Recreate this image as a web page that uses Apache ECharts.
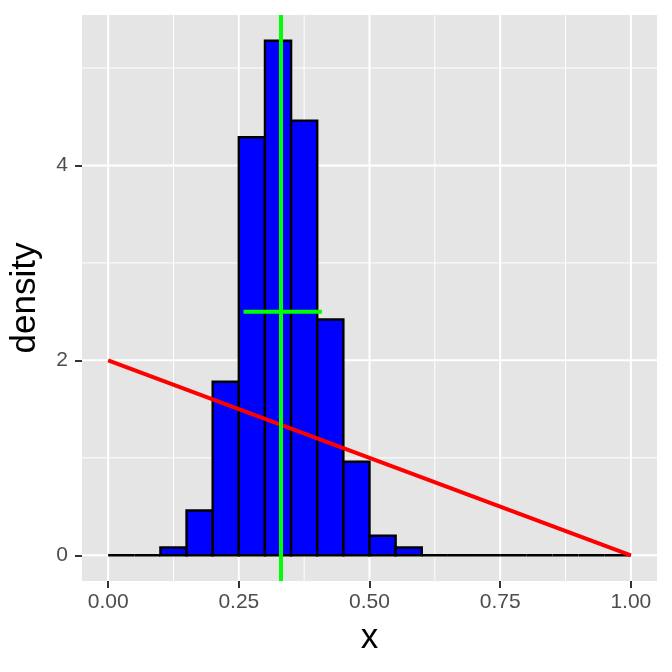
<!DOCTYPE html>
<html>
<head>
<meta charset="utf-8">
<script src="https://cdn.jsdelivr.net/npm/echarts@6/dist/echarts.min.js"></script>
<style>
  html, body { margin: 0; padding: 0; background: #fff; }
  #m1 { width: 672px; height: 672px; }
</style>
</head>
<body>
<div id="m1"></div>
<script>
// histogram bins (width 0.05) and densities
var binLo = [0.00, 0.05, 0.10, 0.15, 0.20, 0.25, 0.30, 0.35, 0.40, 0.45,
             0.50, 0.55, 0.60, 0.65, 0.70, 0.75, 0.80, 0.85, 0.90, 0.95];
var binHi = [0.05, 0.10, 0.15, 0.20, 0.25, 0.30, 0.35, 0.40, 0.45, 0.50,
             0.55, 0.60, 0.65, 0.70, 0.75, 0.80, 0.85, 0.90, 0.95, 1.00];
var density = [0, 0, 0.08, 0.46, 1.78, 4.29, 5.28, 4.46, 2.42, 0.96,
               0.20, 0.08, 0, 0, 0, 0, 0, 0, 0, 0];

// red reference line
var lineX = [0, 1];
var lineY = [2, 0];

// green mean line and horizontal bar
var meanX = 0.334;
var barY = 2.5;
var barLo = 0.259;
var barHi = 0.409;

// ticks and grid
var xTicks = [0, 0.25, 0.5, 0.75, 1];
var xMinor = [0.125, 0.375, 0.625, 0.875];
var yTicks = [0, 2, 4];
var yMinor = [1, 3, 5];

var myChart = echarts.init(document.getElementById('m1'));

var histData = binLo.map(function (lo, i) { return [lo, binHi[i], density[i]]; });
var refData = lineX.map(function (x, i) { return [x, lineY[i]]; });

// [direction, value, width]: 0 = vertical line at x, 1 = horizontal line at y
var gridData = [];
xMinor.forEach(function (v) { gridData.push([0, v, 1]); });
yMinor.forEach(function (v) { gridData.push([1, v, 1]); });
xTicks.forEach(function (v) { gridData.push([0, v, 2]); });
yTicks.forEach(function (v) { gridData.push([1, v, 2]); });

var font = "'Liberation Sans', Arial, sans-serif";

var option = {
    animation: false,
    grid: {
        left: 82, right: 15, top: 15, bottom: 91,
        containLabel: false,
        outerBoundsMode: 'none',
        show: true, backgroundColor: '#E5E5E5', borderWidth: 0
    },
    xAxis: {
        type: 'value',
        min: -0.05, max: 1.05,
        name: 'x',
        nameLocation: 'middle',
        nameGap: 40,
        nameTextStyle: { fontFamily: font, fontSize: 35, color: '#000' },
        axisLine: { show: false, onZero: false },
        splitLine: { show: false },
        axisTick: { show: true, customValues: xTicks, length: 7, lineStyle: { color: '#333333', width: 2 } },
        axisLabel: {
            customValues: xTicks, margin: 11,
            fontFamily: font, fontSize: 21, color: '#4D4D4D',
            formatter: function (v) { return v.toFixed(2); }
        }
    },
    yAxis: {
        type: 'value',
        min: -0.264, max: 5.544,
        name: 'density',
        nameLocation: 'middle',
        nameGap: 39,
        nameTextStyle: { fontFamily: font, fontSize: 35, color: '#000' },
        axisLine: { show: false, onZero: false },
        splitLine: { show: false },
        axisTick: { show: true, customValues: yTicks, length: 7, lineStyle: { color: '#333333', width: 2 } },
        axisLabel: {
            customValues: yTicks, margin: 14,
            fontFamily: font, fontSize: 21, color: '#4D4D4D'
        }
    },
    series: [
        {
            // panel grid lines
            type: 'custom',
            z: 1,
            silent: true,
            data: gridData,
            renderItem: function (params, api) {
                var cs = params.coordSys;
                var dir = api.value(0), v = api.value(1);
                var shape;
                if (dir === 0) {
                    var px = api.coord([v, 0])[0];
                    shape = { x1: px, y1: cs.y, x2: px, y2: cs.y + cs.height };
                } else {
                    var py = api.coord([0, v])[1];
                    shape = { x1: cs.x, y1: py, x2: cs.x + cs.width, y2: py };
                }
                return { type: 'line', shape: shape, style: { stroke: '#FFFFFF', lineWidth: api.value(2) } };
            }
        },
        {
            type: 'custom',
            z: 2,
            clip: true,
            data: histData,
            renderItem: function (params, api) {
                var p0 = api.coord([api.value(0), api.value(2)]);
                var p1 = api.coord([api.value(1), 0]);
                return {
                    type: 'rect',
                    shape: { x: p0[0], y: p0[1], width: p1[0] - p0[0], height: p1[1] - p0[1] },
                    style: { fill: '#0000FF', stroke: '#000000', lineWidth: 2.4 }
                };
            }
        },
        {
            type: 'line',
            z: 3,
            data: refData,
            symbol: 'none',
            lineStyle: { color: '#FF0000', width: 4 }
        },
        {
            type: 'line',
            z: 4,
            data: [[barLo, barY], [barHi, barY]],
            symbol: 'none',
            lineStyle: { color: '#00FF00', width: 4 },
            markLine: {
                silent: true,
                symbol: 'none',
                label: { show: false },
                lineStyle: { color: '#00FF00', width: 4, type: 'solid' },
                data: [{ xAxis: meanX }]
            }
        }
    ]
};
myChart.setOption(option);
</script>
</body>
</html>
